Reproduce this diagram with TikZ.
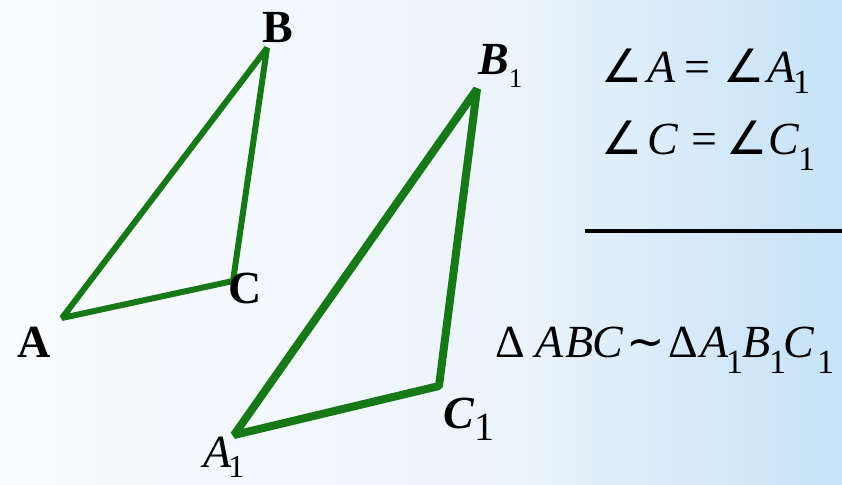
\documentclass[tikz,border=0pt]{standalone}
\usepackage{fontspec}
\setmainfont{Liberation Serif}
\newfontfamily\symf{DejaVu Sans}
\definecolor{tri}{RGB}{22,120,22}
\definecolor{bgl}{RGB}{250,252,254}
\definecolor{bgm}{RGB}{236,244,251}
\definecolor{bgr}{RGB}{198,226,247}
\newcommand\gl[2]{\rlap{\hspace*{#1pt}#2}}
\newcommand\itl[1]{\textit{#1}}
\newcommand\subone[2]{\raisebox{-#1pt}{\normalfont\fontsize{#2}{#2}\selectfont 1}}
\newcommand\ang{\kern-4pt{\symf\fontsize{46}{46}\selectfont ∠}}
\begin{document}
\begin{tikzpicture}[x=1pt,y=-1pt,
  tri1/.style={draw=tri,line width=6pt,line join=bevel},
  tri2/.style={draw=tri,line width=8pt,line join=bevel},
  vlab/.style={inner sep=0pt,anchor=base west,font=\fontsize{46}{50}\selectfont\bfseries},
  eqn/.style={inner sep=0pt,anchor=base west,font=\fontsize{46}{50}\selectfont}]
\useasboundingbox (0,0) rectangle (842,484);
\shade[left color=bgl,right color=bgm] (0,0) rectangle (500,484);
\shade[left color=bgm,right color=bgr] (500,0) rectangle (842,484);
% triangle ABC
\coordinate (A) at (62,318);
\coordinate (B) at (267,48);
\coordinate (C) at (233,281);
\draw[tri1] (A) -- (B) -- (C) -- cycle;
% triangle A1B1C1
\coordinate (A1) at (234,435);
\coordinate (B1) at (477,89);
\coordinate (C1) at (439,386);
\draw[tri2] (A1) -- (B1) -- (C1) -- cycle;
% vertex labels
\node[vlab] (lB) at (262,43) {B};
\node[vlab] (lC) at (228,303) {C};
\node[vlab] (lA) at (17,357) {A};
\node[vlab] (lB1) at (478,75) {\textit{B}\subone{13}{27}};
\node[vlab] (lC1) at (443,428) {\textit{C}\subone{12}{40}};
\node[eqn] (lA1) at (203,467) {\itl{A}\kern-3pt\subone{10}{32}};
% equations
\node[eqn] (e1) at (605,83) {\gl{0}{\ang}\gl{42}{\itl{A}}\gl{79}{=}\gl{122}{\ang}\gl{162}{\itl{A}}\gl{188}{\subone{11}{34}}\hspace*{205pt}};
\node[eqn] (e2) at (605,154) {\gl{0}{\ang}\gl{42}{\itl{C}}\gl{86}{=}\gl{125}{\ang}\gl{163}{\itl{C}}\gl{193}{\subone{16}{34}}\hspace*{210pt}};
\coordinate (h1) at (585,231);
\coordinate (h2) at (842,231);
\draw[line width=4.5pt] (h1) -- (h2);
\node[eqn] (e3) at (495,357) {\gl{0}{Δ}\gl{40}{\itl{A}}\gl{70}{\itl{B}}\gl{97}{\itl{C}}\gl{131}{{\symf ∼}}\gl{173}{Δ}\gl{205}{\itl{A}}\gl{231}{\subone{16}{34}}\gl{247}{\itl{B}}\gl{274}{\subone{16}{34}}\gl{288}{\itl{C}}\gl{322}{\subone{16}{34}}\hspace*{340pt}};
\end{tikzpicture}
\end{document}
